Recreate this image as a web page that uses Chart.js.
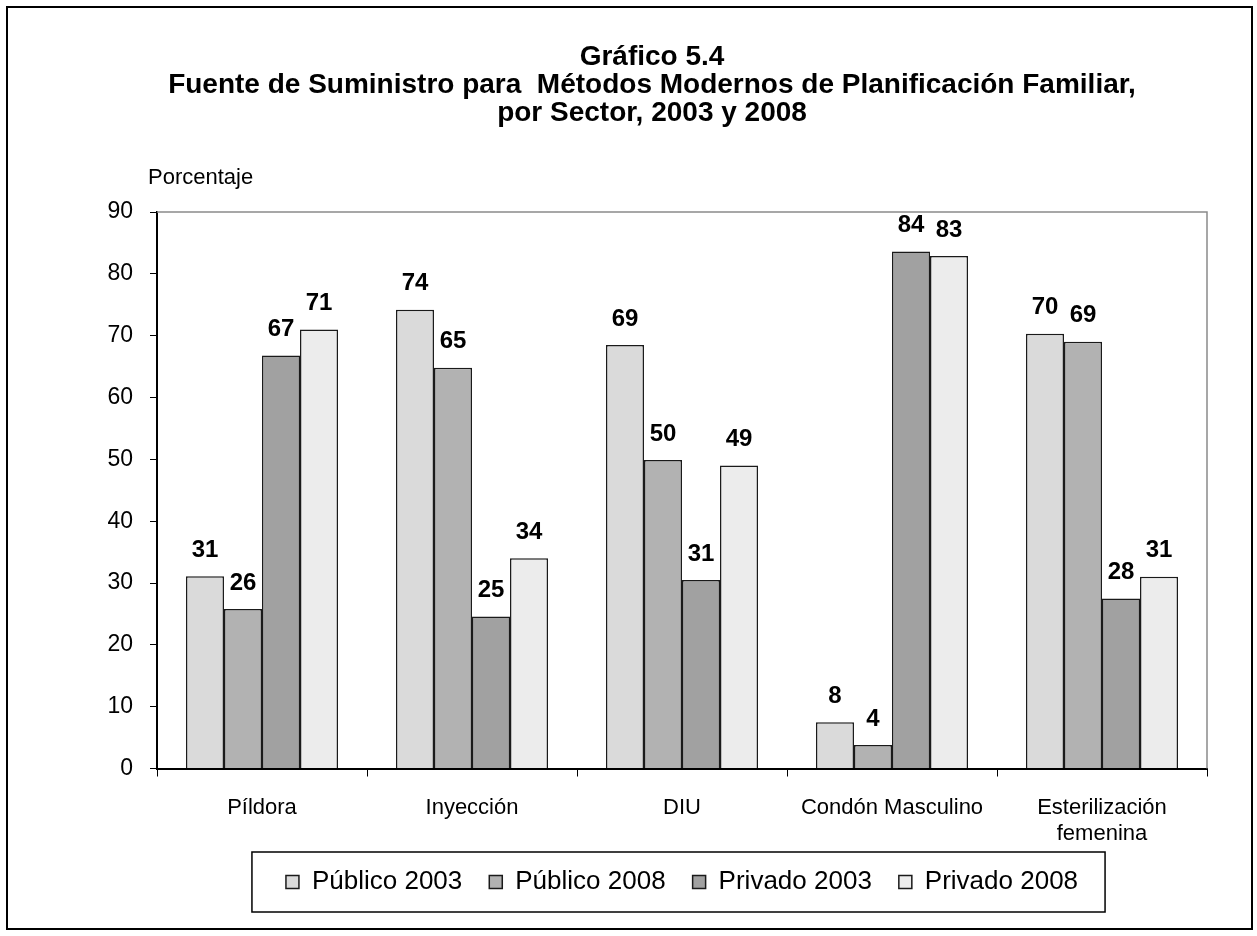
<!DOCTYPE html>
<html>
<head>
<meta charset="utf-8">
<script src="https://cdn.jsdelivr.net/npm/chart.js@4.4.1/dist/chart.umd.min.js"></script>
<style>
    html, body { margin: 0; padding: 0; background: #fff; }
    #wrap { width: 1257px; height: 936px; position: relative; }
</style>
</head>
<body>
<div id="wrap"><canvas id="chart" width="1257" height="936"></canvas></div>
<script>
const categories = ['Píldora', 'Inyección', 'DIU', 'Condón Masculino', ['Esterilización', 'femenina']];
const seriesNames = ['Público 2003', 'Público 2008', 'Privado 2003', 'Privado 2008'];
const publico2003 = [31.1, 74.2, 68.5, 7.5, 70.3];
const publico2008 = [25.8, 64.8, 49.9, 3.8, 69.0];
const privado2003 = [66.8, 24.6, 30.5, 83.6, 27.5];
const privado2008 = [71.0, 34.0, 49.0, 82.9, 31.0];
const yTicks = [0, 10, 20, 30, 40, 50, 60, 70, 80, 90];

const FONT = "'Liberation Sans', Arial, sans-serif";
const fills = ['#dadada', '#b2b2b2', '#a1a1a1', '#ececec'];

function makeSet(i, data) {
    return {
        label: seriesNames[i],
        data: data,
        backgroundColor: fills[i],
        borderColor: '#1a1a1a',
        borderWidth: 1.5,
        categoryPercentage: 0.724,
        barPercentage: 1.0
    };
}

// values above the bars + plot frame + outer frame + "Porcentaje"
const decorPlugin = {
    id: 'decor',
    beforeDatasetsDraw(chart) {
        const { ctx, chartArea: a } = chart;
        ctx.save();
        ctx.strokeStyle = '#8a8a8a';
        ctx.lineWidth = 1.5;
        ctx.beginPath();
        ctx.moveTo(a.left, a.top);
        ctx.lineTo(a.right, a.top);
        ctx.lineTo(a.right, a.bottom);
        ctx.stroke();
        ctx.restore();
    },
    afterDatasetsDraw(chart) {
        const ctx = chart.ctx;
        ctx.save();
        ctx.font = 'bold 24px ' + FONT;
        ctx.fillStyle = '#000';
        ctx.textAlign = 'center';
        ctx.textBaseline = 'middle';
        chart.data.datasets.forEach((ds, di) => {
            chart.getDatasetMeta(di).data.forEach((bar, i) => {
                ctx.fillText(String(Math.round(ds.data[i])), bar.x, bar.y - 26);
            });
        });
        ctx.restore();
    },
    afterDraw(chart) {
        const ctx = chart.ctx;
        ctx.save();
        ctx.font = '22px ' + FONT;
        ctx.fillStyle = '#000';
        ctx.textAlign = 'left';
        ctx.textBaseline = 'middle';
        ctx.fillText('Porcentaje', 148, 178);

        const boxes = chart.legend.legendHitBoxes;
        if (boxes && boxes.length) {
            const first = boxes[0];
            const last = boxes[boxes.length - 1];
            const mid = first.top + first.height / 2;
            ctx.strokeStyle = '#000';
            ctx.lineWidth = 1.5;
            ctx.strokeRect(first.left - 34, mid - 30, (last.left + last.width + 27) - (first.left - 34), 60);
        }

        ctx.strokeStyle = '#000';
        ctx.lineWidth = 2;
        ctx.strokeRect(7, 7, 1245, 922);
        ctx.restore();
    }
};

new Chart(document.getElementById('chart'), {
    type: 'bar',
    data: {
        labels: categories,
        datasets: [
            makeSet(0, publico2003),
            makeSet(1, publico2008),
            makeSet(2, privado2003),
            makeSet(3, privado2008)
        ]
    },
    options: {
        responsive: false,
        animation: false,
        layout: { padding: { left: 97, right: 50, top: 0, bottom: 31 } },
        plugins: {
            title: {
                display: true,
                text: [
                    'Gráfico 5.4',
                    'Fuente de Suministro para  Métodos Modernos de Planificación Familiar,',
                    'por Sector, 2003 y 2008'
                ],
                color: '#000',
                font: { family: FONT, size: 28, weight: 'bold', lineHeight: 1.0 },
                padding: { top: 43, bottom: 85 }
            },
            legend: {
                position: 'bottom',
                fullSize: false,
                labels: {
                    color: '#000',
                    font: { family: FONT, size: 26 },
                    boxWidth: 13,
                    boxHeight: 13,
                    padding: 27
                }
            },
            tooltip: { enabled: false }
        },
        scales: {
            x: {
                grid: { drawOnChartArea: false, color: '#000', tickLength: 8, offset: true },
                border: { color: '#000', width: 2 },
                ticks: { color: '#000', font: { family: FONT, size: 22 }, padding: 18, maxRotation: 0, autoSkip: false },
                afterFit(scale) { scale.height = 73.5; }
            },
            y: {
                min: 0,
                max: 90,
                afterBuildTicks(scale) { scale.ticks = yTicks.map(v => ({ value: v })); },
                grid: { drawOnChartArea: false, color: '#000', tickLength: 7 },
                border: { color: '#000', width: 2 },
                ticks: { color: '#000', font: { family: FONT, size: 23 }, padding: 17 },
                afterFit(scale) { scale.width = 60; }
            }
        }
    },
    plugins: [decorPlugin]
});
</script>
</body>
</html>
